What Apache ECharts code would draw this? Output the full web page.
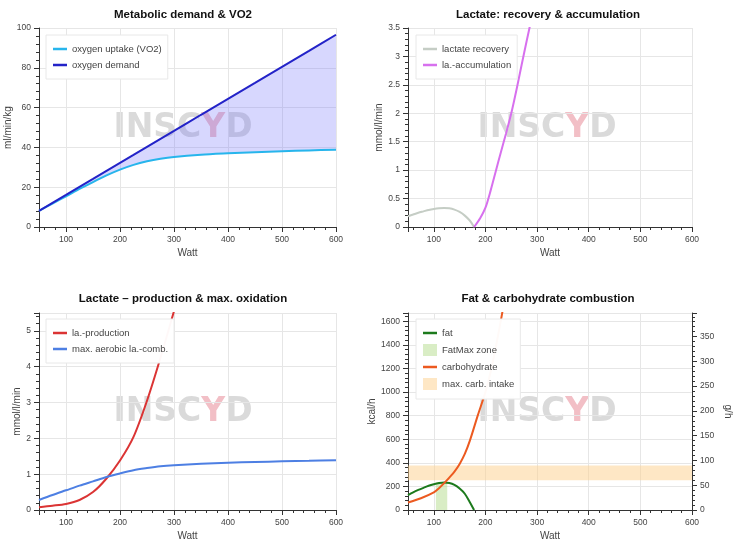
<!DOCTYPE html>
<html>
<head>
<meta charset="utf-8">
<script src="https://cdn.jsdelivr.net/npm/echarts@6/dist/echarts.min.js"></script>
<style>
  html, body { margin: 0; padding: 0; background: #fff; }
  #chart { width: 740px; height: 557px; }
</style>
</head>
<body>
<div id="chart"></div>
<script>
// metabolic demand & VO2 (ml/min/kg)
const wattO2 = [50, 75, 100, 125, 150, 175, 200, 225, 250, 275, 300, 350, 400, 450, 500, 550, 600]
const vo2Uptake = [8.1, 11.8, 15.4, 19.1, 22.6, 25.9, 28.8, 31.2, 33.0, 34.3, 35.2, 36.3, 37.0, 37.6, 38.1, 38.5, 38.8]
const o2Demand = [8.1, 12.1, 16.1, 20.2, 24.2, 28.2, 32.2, 36.2, 40.3, 44.3, 48.3, 56.4, 64.4, 72.4, 80.5, 88.5, 96.6]

// lactate recovery & accumulation (mmol/l/min)
const wattRecovery = [50, 60, 70, 80, 90, 100, 110, 120, 130, 140, 150, 160, 170, 178]
const lactateRecovery = [0.19, 0.22, 0.25, 0.275, 0.3, 0.318, 0.33, 0.335, 0.328, 0.305, 0.265, 0.2, 0.11, 0]
const wattAccum = [178, 190, 200, 210, 220, 230, 240, 250, 260, 270, 280, 290]
const laAccumulation = [0, 0.16, 0.34, 0.64, 0.98, 1.32, 1.65, 2.0, 2.41, 2.85, 3.28, 3.7]

// lactate production & max. oxidation (mmol/l/min)
const wattProduction = [50, 75, 100, 125, 150, 175, 200, 225, 250, 275, 300, 310]
const laProduction = [0.08, 0.12, 0.17, 0.28, 0.5, 0.88, 1.38, 2.04, 3.05, 4.25, 5.55, 6.1]
const wattAerobic = [50, 75, 100, 125, 150, 175, 200, 225, 250, 275, 300, 350, 400, 450, 500, 550, 600]
const aerobicComb = [0.28, 0.42, 0.55, 0.68, 0.8, 0.92, 1.02, 1.11, 1.17, 1.22, 1.25, 1.29, 1.32, 1.34, 1.36, 1.375, 1.39]

// fat & carbohydrate combustion (kcal/h)
const wattFat = [50, 60, 70, 80, 90, 100, 110, 120, 130, 140, 150, 160, 170, 178]
const fatKcal = [127, 150, 170, 188, 205, 218, 228, 233, 229, 213, 182, 138, 64, 0]
const wattCarb = [50, 75, 100, 110, 120, 130, 140, 150, 160, 170, 185, 200, 210, 220, 230, 240]
const carbKcal = [64, 100, 150, 185, 228, 275, 325, 390, 475, 590, 800, 1000, 1170, 1380, 1610, 1860]
const fatMaxWatt = [104, 126]
const fatMaxKcal = 232
const carbIntakeGph = [60, 90]
const kcalPerGram = 4.2
const kcalMax = 1670

const FONT = 'Liberation Sans, Arial, Helvetica, sans-serif'
const LINE_ICON = 'path://M0,0H14V2.5H0Z'
const AXIS_COLOR = '#333'
const GRID_COLOR = '#e6e6e6'

const pairs = (xs, ys) => xs.map((x, i) => [x, ys[i]])

const tickLabel = (extra) =>
  Object.assign({
    color: '#444',
    fontSize: 8.5,
    fontFamily: FONT,
    margin: 8,
    formatter: (v) => String(+v.toFixed(2)),
  }, extra || {})

function xAxisFor(gridIndex) {
  return {
    type: 'value',
    gridIndex,
    min: 50,
    max: 600,
    name: 'Watt',
    nameLocation: 'middle',
    nameGap: 21,
    nameTextStyle: { color: '#444', fontSize: 10, fontFamily: FONT },
    axisLine: { onZero: false, lineStyle: { color: AXIS_COLOR } },
    axisTick: { length: 5, lineStyle: { color: AXIS_COLOR } },
    minorTick: { show: true, splitNumber: 5, length: 3, lineStyle: { color: AXIS_COLOR } },
    axisLabel: tickLabel({ showMinLabel: false }),
    splitLine: { lineStyle: { color: GRID_COLOR } },
  }
}

function yAxisFor(gridIndex, name, max, interval, nameGap, extra) {
  return Object.assign({
    type: 'value',
    gridIndex,
    min: 0,
    max,
    interval,
    name,
    nameLocation: 'middle',
    nameGap,
    nameTextStyle: { color: '#444', fontSize: 10, fontFamily: FONT },
    axisLine: { show: true, onZero: false, lineStyle: { color: AXIS_COLOR } },
    axisTick: { show: true, length: 5, lineStyle: { color: AXIS_COLOR } },
    minorTick: { show: true, splitNumber: 5, length: 3, lineStyle: { color: AXIS_COLOR } },
    axisLabel: tickLabel(),
    splitLine: { lineStyle: { color: GRID_COLOR } },
  }, extra || {})
}

function legendFor(items, left, top) {
  return {
    orient: 'vertical',
    left,
    top,
    z: 10,
    itemWidth: 14,
    itemHeight: 12,
    itemGap: 6,
    padding: [9, 6, 9, 7],
    backgroundColor: 'rgba(255,255,255,0.97)',
    borderColor: '#e8e8e8',
    borderWidth: 1,
    selectedMode: false,
    itemStyle: { borderWidth: 0 },
    textStyle: { color: '#444', fontSize: 9.5, fontFamily: FONT },
    data: items,
  }
}

function lineSeries(name, xs, ys, color, xi, yi) {
  return {
    name,
    type: 'line',
    xAxisIndex: xi,
    yAxisIndex: yi,
    data: pairs(xs, ys),
    showSymbol: false,
    smooth: 0.3,
    color,
    lineStyle: { width: 2, color },
    z: 4,
  }
}

function titleFor(text, x, y) {
  return {
    text,
    left: x,
    top: y,
    padding: 0,
    textAlign: 'center',
    textStyle: { fontSize: 11.5, fontWeight: 'bold', color: '#111', fontFamily: FONT },
  }
}

function watermark(x, y) {
  return {
    type: 'text',
    x,
    y,
    z: 0,
    silent: true,
    style: {
      text: '{a|INSC}{b|Y}{a|D}',
      align: 'center',
      verticalAlign: 'middle',
      textAlign: 'center',
      textVerticalAlign: 'middle',
      rich: {
        a: { fontSize: 33, fontWeight: 'bold', fontFamily: 'DejaVu Sans', fill: '#dadada' },
        b: { fontSize: 33, fontWeight: 'bold', fontFamily: 'DejaVu Sans', fill: '#f2bfc6' },
      },
    },
  }
}

const colors = {
  vo2: '#27b5ec',
  demand: '#2323c8',
  gapFill: 'rgba(110,110,250,0.28)',
  recovery: '#c5cdc5',
  accumulation: '#d770ee',
  production: '#db3434',
  aerobic: '#4d7fe3',
  fat: '#1c7a1c',
  fatMax: 'rgba(180,220,140,0.5)',
  carb: '#ec5a20',
  carbIntake: 'rgba(253,208,140,0.5)',
}

const myChart = echarts.init(document.getElementById('chart'), null, { renderer: 'canvas' })

const option = {
  animation: false,
  backgroundColor: '#fff',
  textStyle: { fontFamily: FONT },
  title: [
    titleFor('Metabolic demand & VO2', 183, 9),
    titleFor('Lactate: recovery & accumulation', 548, 9),
    titleFor('Lactate \u2013 production & max. oxidation', 183, 293),
    titleFor('Fat & carbohydrate combustion', 548, 293),
  ],
  graphic: [
    watermark(183, 128),
    watermark(547, 128),
    watermark(183, 412),
    watermark(547, 412),
  ],
  legend: [
    legendFor([
      { name: 'oxygen uptake (VO2)', icon: LINE_ICON, itemStyle: { color: colors.vo2 } },
      { name: 'oxygen demand', icon: LINE_ICON, itemStyle: { color: colors.demand } },
    ], 46, 35),
    legendFor([
      { name: 'lactate recovery', icon: LINE_ICON, itemStyle: { color: colors.recovery } },
      { name: 'la.-accumulation', icon: LINE_ICON, itemStyle: { color: colors.accumulation } },
    ], 416, 35),
    legendFor([
      { name: 'la.-production', icon: LINE_ICON, itemStyle: { color: colors.production } },
      { name: 'max. aerobic la.-comb.', icon: LINE_ICON, itemStyle: { color: colors.aerobic } },
    ], 46, 319),
    legendFor([
      { name: 'fat', icon: LINE_ICON, itemStyle: { color: colors.fat } },
      { name: 'FatMax zone', icon: 'rect', itemStyle: { color: colors.fatMax } },
      { name: 'carbohydrate', icon: LINE_ICON, itemStyle: { color: colors.carb } },
      { name: 'max. carb. intake', icon: 'rect', itemStyle: { color: colors.carbIntake } },
    ], 416, 319),
  ],
  grid: [
    { left: 39, top: 28, width: 297, height: 199 },
    { left: 408, top: 28, width: 284, height: 199 },
    { left: 39, top: 313, width: 297, height: 197 },
    { left: 408, top: 313, width: 284, height: 197 },
  ],
  xAxis: [xAxisFor(0), xAxisFor(1), xAxisFor(2), xAxisFor(3)],
  yAxis: [
    yAxisFor(0, 'ml/min/kg', 100, 20, 24),
    yAxisFor(1, 'mmol/l/min', 3.5, 0.5, 22),
    yAxisFor(2, 'mmol/l/min', 5.5, 1, 17, { axisLabel: tickLabel({ showMaxLabel: false }) }),
    yAxisFor(3, 'kcal/h', kcalMax, 200, 27, { axisLabel: tickLabel({ showMaxLabel: false }) }),
    yAxisFor(3, 'g/h', kcalMax / kcalPerGram, 50, 31, {
      position: 'right',
      nameRotate: -90,
      splitLine: { show: false },
      axisLabel: tickLabel({ showMaxLabel: false }),
    }),
  ],
  series: [
    // shaded gap between oxygen demand and VO2
    {
      name: 'o2-gap',
      type: 'custom',
      xAxisIndex: 0,
      yAxisIndex: 0,
      data: [0],
      silent: true,
      clip: true,
      z: 2,
      renderItem: (params, api) => {
        const upper = wattO2.map((w, i) => api.coord([w, o2Demand[i]]))
        const lower = wattO2.map((w, i) => api.coord([w, vo2Uptake[i]])).reverse()
        return {
          type: 'polygon',
          shape: { points: upper.concat(lower) },
          style: { fill: colors.gapFill },
        }
      },
    },
    lineSeries('oxygen uptake (VO2)', wattO2, vo2Uptake, colors.vo2, 0, 0),
    lineSeries('oxygen demand', wattO2, o2Demand, colors.demand, 0, 0),

    lineSeries('lactate recovery', wattRecovery, lactateRecovery, colors.recovery, 1, 1),
    lineSeries('la.-accumulation', wattAccum, laAccumulation, colors.accumulation, 1, 1),

    lineSeries('la.-production', wattProduction, laProduction, colors.production, 2, 2),
    lineSeries('max. aerobic la.-comb.', wattAerobic, aerobicComb, colors.aerobic, 2, 2),

    {
      name: 'FatMax zone',
      type: 'line',
      xAxisIndex: 3,
      yAxisIndex: 3,
      data: [],
      color: colors.fatMax,
      z: 2,
      markArea: {
        silent: true,
        itemStyle: { color: colors.fatMax },
        data: [[
          { xAxis: fatMaxWatt[0], yAxis: 0 },
          { xAxis: fatMaxWatt[1], yAxis: fatMaxKcal },
        ]],
      },
    },
    {
      name: 'max. carb. intake',
      type: 'line',
      xAxisIndex: 3,
      yAxisIndex: 4,
      data: [],
      color: colors.carbIntake,
      z: 2,
      markArea: {
        silent: true,
        itemStyle: { color: colors.carbIntake },
        data: [[
          { yAxis: carbIntakeGph[0] },
          { yAxis: carbIntakeGph[1] },
        ]],
      },
    },
    lineSeries('fat', wattFat, fatKcal, colors.fat, 3, 3),
    lineSeries('carbohydrate', wattCarb, carbKcal, colors.carb, 3, 3),
  ],
}

option && myChart.setOption(option)
</script>
</body>
</html>
